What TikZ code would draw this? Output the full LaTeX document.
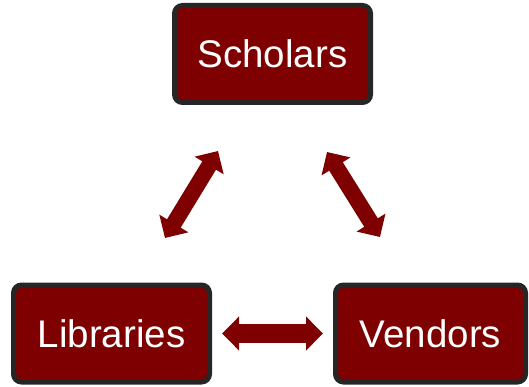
\documentclass[tikz,border=0pt]{standalone}
\usepackage{fontspec}
\setmainfont{Liberation Sans}
\usetikzlibrary{arrows.meta}
\definecolor{maroon}{HTML}{7F0000}
\definecolor{rim}{HTML}{262626}
\tikzset{
  party/.style={draw=rim, fill=maroon, line width=5pt, rounded corners=8pt,
    text=white, font=\fontsize{38.5}{44}\selectfont,
    minimum height=97pt, inner sep=0pt},
  link/.style={draw=maroon, line width=19pt,
    {Triangle[width=33pt,length=17pt]}-{Triangle[width=33pt,length=17pt]}}
}
\begin{document}
\begin{tikzpicture}[x=1pt,y=1pt]
  \useasboundingbox (0,0) rectangle (529,386);
  \node[party, minimum width=196pt] (sch) at (272.5,332) {Scholars};
  \node[party, minimum width=196pt] (lib) at (111.5,52.5) {Libraries};
  \node[party, minimum width=190pt] (ven) at (430.5,52.5) {Vendors};
  % free ends of the slanted arrows
  \coordinate (ls) at (165,148);
  \coordinate (le) at (218,235);
  \coordinate (rs) at (327,234);
  \coordinate (re) at (380,149);
  \draw[link, line width=16pt] (ls) -- (le);
  \draw[link, line width=16pt] (rs) -- (re);
  \draw[link, shorten <=10pt, shorten >=10pt] (lib.east) -- (ven.west);
\end{tikzpicture}
\end{document}
